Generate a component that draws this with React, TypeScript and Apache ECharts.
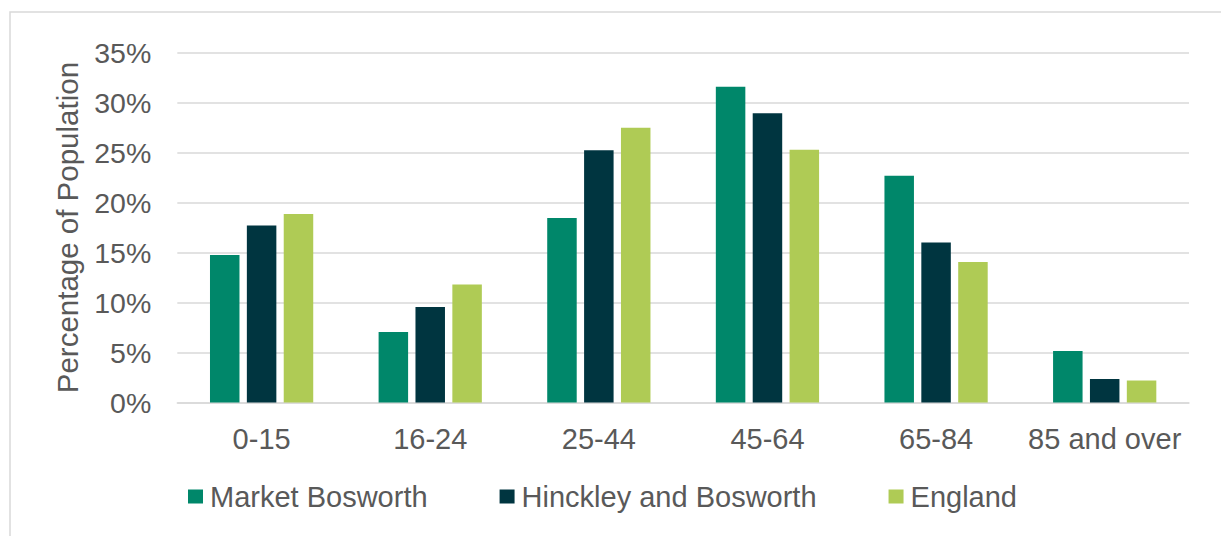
import React, { useEffect, useRef } from "react";
import * as echarts from "echarts";

const categories = ["0-15", "16-24", "25-44", "45-64", "65-84", "85 and over"];
const marketBosworth = [14.75, 7.05, 18.45, 31.6, 22.7, 5.15];
const hinckleyBosworth = [17.7, 9.55, 25.25, 28.95, 16.0, 2.35];
const england = [18.85, 11.8, 27.5, 25.3, 14.05, 2.2];
const seriesNames = ["Market Bosworth", "Hinckley and Bosworth", "England"];
const colors = ["#00876a", "#003540", "#afcb55"];

const FONT = "'Liberation Sans', Arial, sans-serif";
const TEXT = "#595959";

export default function App() {
  const ref = useRef<HTMLDivElement>(null);
  useEffect(() => {
    document.body.style.margin = "0";
    const chart = echarts.init(ref.current!, null, { renderer: "svg" });
    const data = [marketBosworth, hinckleyBosworth, england];
    chart.setOption({
      animation: false,
      backgroundColor: "#ffffff",
      textStyle: { fontFamily: FONT },
      graphic: [
        {
          type: "rect",
          shape: { x: 10, y: 12, width: 1400, height: 800 },
          style: { fill: "none", stroke: "#d9d9d9", lineWidth: 1.5 },
          silent: true,
        },
      ],
      grid: { left: 177.3, right: 32, top: 52.7, bottom: 133.5 },
      legend: {
        left: 188,
        top: 482,
        padding: 0,
        itemWidth: 15,
        itemHeight: 14,
        itemGap: 72,
        icon: "rect",
        data: seriesNames,
        textStyle: { color: TEXT, fontSize: 29, fontFamily: FONT, padding: [0, 0, 0, 2] },
      },
      xAxis: {
        type: "category",
        data: categories,
        axisLine: { lineStyle: { color: "#d9d9d9", width: 1.5 } },
        axisTick: { show: false },
        axisLabel: { color: TEXT, fontSize: 29, fontFamily: FONT, margin: 22, interval: 0 },
      },
      yAxis: {
        type: "value",
        min: 0,
        max: 35,
        interval: 5,
        name: "Percentage of Population",
        nameLocation: "middle",
        nameGap: 95,
        nameTextStyle: { color: TEXT, fontSize: 29.5, fontFamily: FONT },
        axisLine: { show: false },
        axisTick: { show: false },
        axisLabel: { color: TEXT, fontSize: 28.5, fontFamily: FONT, margin: 26, formatter: "{value}%" },
        splitLine: { lineStyle: { color: "#d9d9d9", width: 1.5 } },
      },
      series: seriesNames.map((name, i) => ({
        name,
        type: "bar",
        data: data[i],
        barWidth: 29.5,
        barGap: "25%",
        itemStyle: { color: colors[i] },
      })),
    });
    return () => chart.dispose();
  }, []);
  return (
    <div
      ref={ref}
      style={{ position: "fixed", left: 0, top: 0, width: 1221, height: 536 }}
    />
  );
}
